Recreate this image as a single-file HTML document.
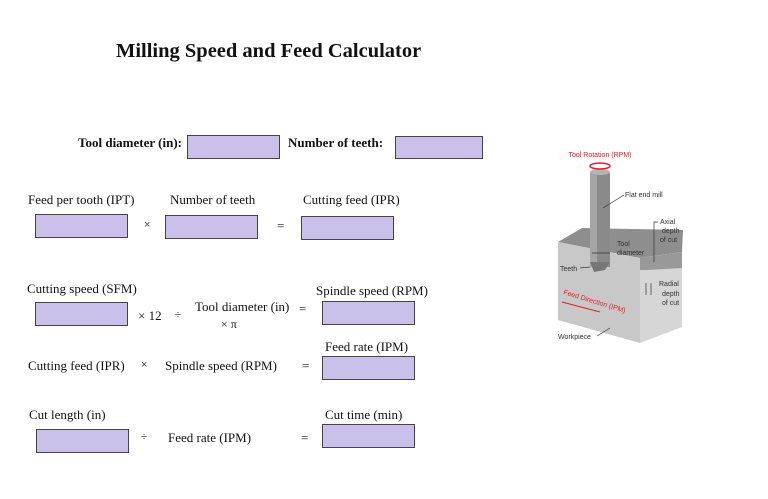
<!DOCTYPE html>
<html><head><meta charset="utf-8"><style>
body{margin:0;width:768px;height:499px;background:#fff;position:relative;overflow:hidden;font-family:"Liberation Serif",serif;color:#111}
.t{position:absolute;font-size:13px;white-space:nowrap;line-height:1}
.b{position:absolute;background:#c9c1e9;border:1px solid #444;box-sizing:border-box;width:93px;height:24px}
.s{position:absolute;font-size:11px;line-height:1;font-family:"Liberation Sans",sans-serif;color:#444}
</style></head><body>
<div class="t" style="left:116px;top:41px;font-size:20.5px;font-weight:bold">Milling Speed and Feed Calculator</div>

<div class="t" style="left:78px;top:136px;font-weight:bold">Tool diameter (in):</div>
<div class="b" style="left:187px;top:135px"></div>
<div class="t" style="left:288px;top:136px;font-weight:bold">Number of teeth:</div>
<div class="b" style="left:395px;top:136px;width:88px;height:23px"></div>

<div class="t" style="left:28px;top:193px">Feed per tooth (IPT)</div>
<div class="t" style="left:170px;top:193px">Number of teeth</div>
<div class="t" style="left:303px;top:193px">Cutting feed (IPR)</div>
<div class="b" style="left:35px;top:214px"></div>
<div class="s" style="left:144px;top:220px">×</div>
<div class="b" style="left:165px;top:215px"></div>
<div class="t" style="left:277px;top:219px">=</div>
<div class="b" style="left:301px;top:216px"></div>

<div class="t" style="left:27px;top:282px">Cutting speed (SFM)</div>
<div class="b" style="left:35px;top:302px"></div>
<div class="t" style="left:138px;top:309px">× 12</div>
<div class="s" style="left:175px;top:310px">÷</div>
<div class="t" style="left:195px;top:300px">Tool diameter (in)</div>
<div class="t" style="left:221px;top:318px;font-size:12px">× π</div>
<div class="t" style="left:299px;top:302px">=</div>
<div class="t" style="left:316px;top:284px">Spindle speed (RPM)</div>
<div class="b" style="left:322px;top:301px"></div>

<div class="t" style="left:28px;top:359px">Cutting feed (IPR)</div>
<div class="s" style="left:141px;top:360px">×</div>
<div class="t" style="left:165px;top:359px">Spindle speed (RPM)</div>
<div class="t" style="left:302px;top:359px">=</div>
<div class="t" style="left:325px;top:340px">Feed rate (IPM)</div>
<div class="b" style="left:322px;top:356px"></div>

<div class="t" style="left:29px;top:408px">Cut length (in)</div>
<div class="b" style="left:36px;top:429px"></div>
<div class="s" style="left:141px;top:432px">÷</div>
<div class="t" style="left:168px;top:431px">Feed rate (IPM)</div>
<div class="t" style="left:301px;top:431px">=</div>
<div class="t" style="left:325px;top:408px">Cut time (min)</div>
<div class="b" style="left:322px;top:424px"></div>

<svg style="position:absolute;left:0;top:0" width="768" height="499" font-family="Liberation Sans,sans-serif" font-size="7">
<polygon points="558,242 582,228 683,230 682,252 640,258" fill="#8e8e8e"/>
<polygon points="640,258 682,252 682,327 640,343" fill="#d6d6d6"/>
<polygon points="558,242 640,258 640,343 558,320" fill="#c8c8c8"/>
<polygon points="640,258 682,252 682,268 648,270 640,270" fill="#999"/>
<rect x="590" y="172" width="20" height="95" fill="#8a8a8a"/>
<rect x="590" y="172" width="7" height="95" fill="#a5a5a5"/>
<ellipse cx="600" cy="172" rx="10" ry="3" fill="#b5b5b5"/>
<path d="M590,262 L610,262 L605,270 L594,272 Z" fill="#777"/>
<text x="600" y="157" fill="#e02020" text-anchor="middle">Tool Rotation (RPM)</text>
<ellipse cx="600" cy="166" rx="10" ry="3" fill="none" stroke="#e02020" stroke-width="1.5"/>
<text x="625" y="197" fill="#333">Flat end mill</text>
<line x1="603" y1="208" x2="624" y2="195" stroke="#333" stroke-width=".7"/>
<text x="660" y="224" fill="#333">Axial</text><text x="662" y="233" fill="#333">depth</text><text x="660" y="242" fill="#333">of cut</text>
<polyline points="658,222 654,222 654,262" fill="none" stroke="#333" stroke-width=".7"/>
<text x="617" y="246" fill="#333">Tool</text><text x="617" y="255" fill="#333">diameter</text>
<line x1="592" y1="253" x2="610" y2="253" stroke="#333" stroke-width=".7"/>
<text x="560" y="271" fill="#333">Teeth</text>
<line x1="580" y1="268" x2="590" y2="267" stroke="#333" stroke-width=".7"/>
<text x="659" y="286" fill="#333">Radial</text><text x="662" y="296" fill="#333">depth</text><text x="662" y="305" fill="#333">of cut</text>
<line x1="646" y1="283" x2="646" y2="295" stroke="#333" stroke-width=".7"/>
<line x1="651" y1="283" x2="651" y2="295" stroke="#333" stroke-width=".7"/>
<text x="563" y="294" fill="#e02020" transform="rotate(17 563 294)">Feed Direction (IPM)</text>
<line x1="562" y1="302" x2="600" y2="312" stroke="#e02020" stroke-width="1"/>
<text x="558" y="339" fill="#333">Workpiece</text>
<line x1="597" y1="336" x2="610" y2="328" stroke="#333" stroke-width=".7"/>
</svg>
</body></html>
